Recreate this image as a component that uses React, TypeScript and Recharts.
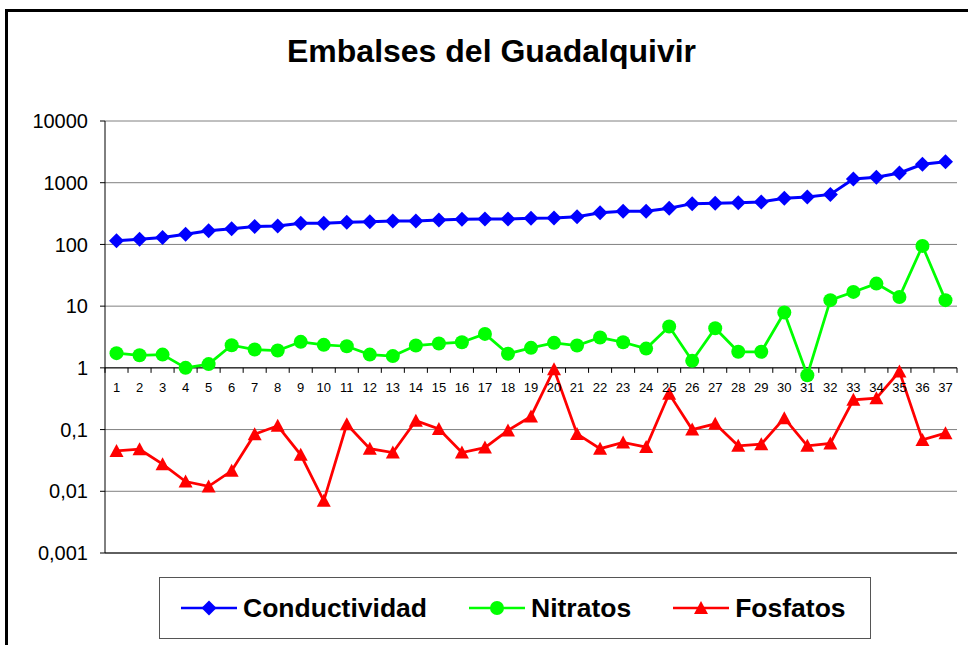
import { LineChart, Line, XAxis, YAxis, CartesianGrid, ReferenceLine } from "recharts";

const categories = [
  "1", "2", "3", "4", "5", "6", "7", "8", "9", "10", "11", "12", "13",
  "14", "15", "16", "17", "18", "19", "20", "21", "22", "23", "24", "25",
  "26", "27", "28", "29", "30", "31", "32", "33", "34", "35", "36", "37",
];

const conductividad = [
  115, 121, 129, 146, 166, 180, 195, 199, 220, 220, 229, 234, 240, 240, 249,
  257, 259, 259, 265, 268, 282, 327, 345, 345, 386, 458, 464, 475, 488, 560,
  589, 647, 1150, 1225, 1440, 1990, 2190,
];

const nitratos = [
  1.73, 1.6, 1.64, 1.0, 1.15, 2.33, 1.98, 1.91, 2.64, 2.36, 2.24, 1.64, 1.55,
  2.3, 2.48, 2.6, 3.55, 1.69, 2.11, 2.54, 2.3, 3.1, 2.6, 2.05, 4.67, 1.3, 4.39,
  1.82, 1.82, 7.87, 0.76, 12.5, 17.0, 23.2, 14.1, 94.6, 12.5,
];

const fosfatos = [
  0.045, 0.048, 0.0275, 0.0144, 0.012, 0.0215, 0.084, 0.115, 0.039, 0.007,
  0.122, 0.049, 0.0425, 0.139, 0.102, 0.0425, 0.051, 0.097, 0.163, 0.95, 0.085,
  0.049, 0.062, 0.052, 0.38, 0.1, 0.124, 0.0546, 0.058, 0.153, 0.0546, 0.0596,
  0.303, 0.323, 0.87, 0.068, 0.0875,
];

const yTicks = [0.001, 0.01, 0.1, 1, 10, 100, 1000, 10000];

const data = categories.map((c, i) => ({
  n: c,
  conductividad: conductividad[i],
  nitratos: nitratos[i],
  fosfatos: fosfatos[i],
}));

const FONT = "'Liberation Sans', Arial, sans-serif";
const W = 968;
const H = 645;
const PLOT_LEFT = 105;
const PLOT_TOP = 121;
const PLOT_RIGHT = 957;
const PLOT_BOTTOM = 553;
const PLOT_H = PLOT_BOTTOM - PLOT_TOP;
const BAND = (PLOT_RIGHT - PLOT_LEFT) / categories.length;

// y position of the value 1, where the category axis crosses
const yMin = yTicks[0];
const yMax = yTicks[yTicks.length - 1];
const Y_ONE =
  PLOT_TOP +
  (PLOT_H * (Math.log10(yMax) - Math.log10(1))) /
    (Math.log10(yMax) - Math.log10(yMin));

const fmtY = (v: number) => String(v).replace(".", ",");

function CategoryTick(props: any) {
  const { x, payload, index } = props;
  const left = x - BAND / 2;
  return (
    <g>
      <line x1={left} x2={left} y1={Y_ONE} y2={Y_ONE + 5} stroke="#000" />
      {index === categories.length - 1 && (
        <line x1={x + BAND / 2} x2={x + BAND / 2} y1={Y_ONE} y2={Y_ONE + 5} stroke="#000" />
      )}
      <text x={x} y={Y_ONE + 24} textAnchor="middle" fontSize={13} fontFamily={FONT} fill="#000">
        {payload.value}
      </text>
    </g>
  );
}

const diamond = (cx: number, cy: number, r: number) =>
  `M${cx},${cy - r}L${cx + r},${cy}L${cx},${cy + r}L${cx - r},${cy}Z`;
const triangle = (cx: number, cy: number) =>
  `M${cx},${cy - 7}L${cx + 7},${cy + 6}L${cx - 7},${cy + 6}Z`;

const DiamondDot = (p: any) => (
  <path key={`c-${p.index}`} d={diamond(p.cx, p.cy, 7.5)} fill="#0000FF" />
);
const CircleDot = (p: any) => (
  <circle key={`n-${p.index}`} cx={p.cx} cy={p.cy} r={7} fill="#00FF00" />
);
const TriangleDot = (p: any) => (
  <path key={`f-${p.index}`} d={triangle(p.cx, p.cy)} fill="#FF0000" />
);

function LegendItem({ color, marker, label }: { color: string; marker: string; label: string }) {
  return (
    <div style={{ display: "flex", alignItems: "center" }}>
      <svg width={56} height={20} style={{ marginRight: 6 }}>
        <line x1={0} x2={56} y1={10} y2={10} stroke={color} strokeWidth={2.5} />
        {marker === "diamond" && <path d={diamond(28, 10, 7.5)} fill={color} />}
        {marker === "circle" && <circle cx={28} cy={10} r={7} fill={color} />}
        {marker === "triangle" && <path d={triangle(28, 10)} fill={color} />}
      </svg>
      <span style={{ fontSize: 26.5, fontWeight: "bold", fontFamily: FONT, color: "#000" }}>
        {label}
      </span>
    </div>
  );
}

export default function App() {
  return (
    <div
      style={{
        position: "absolute",
        left: 0,
        top: 0,
        width: W,
        height: H,
        overflow: "hidden",
        background: "#fff",
      }}
    >
      <div
        style={{
          position: "absolute",
          left: 5,
          top: 9,
          width: 1000,
          height: 700,
          border: "3px solid #000",
          boxSizing: "border-box",
        }}
      />
      <div
        style={{
          position: "absolute",
          left: 0,
          width: 983,
          top: 35,
          textAlign: "center",
          fontFamily: FONT,
          fontSize: 32,
          fontWeight: "bold",
          lineHeight: "32px",
        }}
      >
        Embalses del Guadalquivir
      </div>
      <div style={{ position: "absolute", left: 0, top: 0 }}>
        <LineChart
          width={W}
          height={H}
          data={data}
          margin={{ top: PLOT_TOP, right: W - PLOT_RIGHT, bottom: H - PLOT_BOTTOM - 1, left: PLOT_LEFT - 80 }}
        >
          <CartesianGrid vertical={false} stroke="#808080" />
          <XAxis
            dataKey="n"
            scale="band"
            height={1}
            interval={0}
            tickLine={false}
            axisLine={{ stroke: "#000" }}
            tick={<CategoryTick />}
          />
          <YAxis
            scale="log"
            domain={[yMin, yMax]}
            ticks={yTicks}
            allowDataOverflow
            width={80}
            tickSize={5}
            tickMargin={12}
            tickFormatter={fmtY}
            axisLine={{ stroke: "#000" }}
            tickLine={{ stroke: "#000" }}
            tick={{ fill: "#000", fontSize: 20, fontFamily: FONT }}
          />
          <ReferenceLine y={1} stroke="#000" />
          <Line
            dataKey="conductividad"
            stroke="#0000FF"
            strokeWidth={3}
            dot={DiamondDot}
            isAnimationActive={false}
          />
          <Line
            dataKey="nitratos"
            stroke="#00FF00"
            strokeWidth={2.75}
            dot={CircleDot}
            isAnimationActive={false}
          />
          <Line
            dataKey="fosfatos"
            stroke="#FF0000"
            strokeWidth={2.75}
            dot={TriangleDot}
            isAnimationActive={false}
          />
        </LineChart>
      </div>
      <div
        style={{
          position: "absolute",
          left: 159,
          top: 577,
          width: 712,
          height: 62,
          border: "1.5px solid #555",
          boxSizing: "border-box",
          display: "flex",
          alignItems: "center",
          paddingLeft: 21,
          gap: 42,
          background: "#fff",
        }}
      >
        <LegendItem color="#0000FF" marker="diamond" label="Conductividad" />
        <LegendItem color="#00FF00" marker="circle" label="Nitratos" />
        <LegendItem color="#FF0000" marker="triangle" label="Fosfatos" />
      </div>
    </div>
  );
}
